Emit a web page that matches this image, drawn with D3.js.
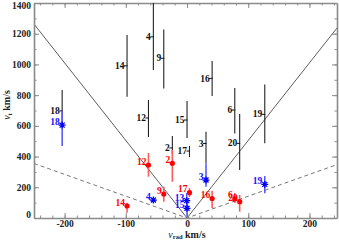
<!DOCTYPE html>
<html><head><meta charset="utf-8">
<script src="https://cdn.jsdelivr.net/npm/d3@7"></script>
<style>body{margin:0;background:#fff;} svg{display:block;}</style>
</head><body><svg id="c" width="339" height="240"></svg>
<script>
// ---- data ----
const xTicks = [-200, -100, 0, 100, 200];
const yTicks = [0, 200, 400, 600, 800, 1000, 1200, 1400];
const solidSlope = 5.05;
const dashSlope = 1.42;

const ids  = ["18","14","12","4","9","2","13","15","17","3","16","6","20","19"];
const vRad = [-204,-98,-63,-55,-38,-24,-0.5,0,4,31,41,78,86,127];

const blackIds = ["18","14","12","4","9","2","15","17","3","16","6","20","19"];
const blackVt  = [697,991,651,1180,1040,456,638,436,485,909,703,486,675];
const blackLo  = [600,790,527,963,844,417,521,397,358,794,551,312,486];
const blackHi  = [833,1191,768,1400,1228,534,762,469,562,1022,846,677,870];

const redIds = ["14","12","9","2","17","16","6","20"];
const redVt  = [78,345,156,356,165,127,124,106];
const redLo  = [35,269,106,236,137,63,98,41];
const redHi  = [100,423,204,443,195,178,163,150];

const blueIds = ["18","4","13","15","3","19"];
const blueVt  = [605,117,113,63,247,219];
const blueLo  = [469,105,65,8,204,161];
const blueHi  = [697,130,163,117,356,273];

// ---- chart ----
const svg = d3.select("#c");
const x = d3.scaleLinear().domain([-250, 245]).range([34, 337]);
const y = d3.scaleLinear().domain([0, 1400]).range([218, 3]);
const vr = id => vRad[ids.indexOf(id)];
const FONT = "'Liberation Serif', 'Times New Roman', serif";
const axisCol = "#8a8a8a";
const fmt = d => String(d);

svg.append("defs").append("clipPath").attr("id","pc")
  .append("rect").attr("x",34).attr("y",3).attr("width",303).attr("height",215);

// V lines
const plot = svg.append("g").attr("clip-path","url(#pc)");
const lineGen = d3.line().x(d=>x(d[0])).y(d=>y(d[1]));
plot.append("path")
  .attr("d", lineGen([[-250, solidSlope*250],[0,0],[245, solidSlope*245]]))
  .attr("fill","none").attr("stroke","#333").attr("stroke-width",0.8);
plot.append("path")
  .attr("d", lineGen([[-250, dashSlope*250],[0,0],[245, dashSlope*245]]))
  .attr("fill","none").attr("stroke","#555").attr("stroke-width",0.8)
  .attr("stroke-dasharray","4,3");

// axes
function styleAxis(g){
  g.select(".domain").attr("stroke",axisCol).attr("stroke-width",1.6);
  g.selectAll(".tick line").attr("stroke",axisCol).attr("stroke-width",1);
  g.selectAll("text").attr("fill","#222").attr("font-family",FONT)
   .attr("font-weight","bold").attr("font-size","9.5px");
}
const minorX = d3.range(-240, 245, 20);
const minorY = d3.range(0, 1401, 100);

const gb = svg.append("g").attr("transform","translate(0,218)")
  .call(d3.axisBottom(x).tickValues(xTicks).tickFormat(fmt).tickSize(-5).tickSizeOuter(0).tickPadding(3));
styleAxis(gb);
gb.selectAll("text").attr("y",2).attr("dy","0.71em");
svg.append("g").attr("transform","translate(0,218)")
  .call(d3.axisBottom(x).tickValues(minorX).tickSize(-2.5).tickFormat(""))
  .call(g=>{g.select(".domain").remove(); g.selectAll("line").attr("stroke",axisCol);});

const gt = svg.append("g").attr("transform","translate(0,3)")
  .call(d3.axisTop(x).tickValues(xTicks).tickSize(-5).tickSizeOuter(0).tickFormat(""));
styleAxis(gt);
svg.append("g").attr("transform","translate(0,3)")
  .call(d3.axisTop(x).tickValues(minorX).tickSize(-2.5).tickFormat(""))
  .call(g=>{g.select(".domain").remove(); g.selectAll("line").attr("stroke",axisCol);});

const gl = svg.append("g").attr("transform","translate(34,0)")
  .call(d3.axisLeft(y).tickValues(yTicks).tickFormat(fmt).tickSize(-5).tickSizeOuter(0).tickPadding(3));
styleAxis(gl);
gl.selectAll("text").attr("x",-3).attr("y", d => d===0 ? -4 : (d===1400 ? 2 : 0));
svg.append("g").attr("transform","translate(34,0)")
  .call(d3.axisLeft(y).tickValues(minorY).tickSize(-2.5).tickFormat(""))
  .call(g=>{g.select(".domain").remove(); g.selectAll("line").attr("stroke",axisCol);});

const gr = svg.append("g").attr("transform","translate(337,0)")
  .call(d3.axisRight(y).tickValues(yTicks).tickSize(-5).tickSizeOuter(0).tickFormat(""));
styleAxis(gr);
svg.append("g").attr("transform","translate(337,0)")
  .call(d3.axisRight(y).tickValues(minorY).tickSize(-2.5).tickFormat(""))
  .call(g=>{g.select(".domain").remove(); g.selectAll("line").attr("stroke",axisCol);});

// axis titles
const xt = svg.append("text").attr("x",187).attr("y",237.5).attr("text-anchor","middle")
  .attr("font-family",FONT).attr("font-size","10px").attr("font-weight","bold").attr("fill","#222");
xt.append("tspan").attr("font-style","italic").attr("font-weight","normal").text("v");
xt.append("tspan").attr("font-size","6.5px").attr("dy",1.5).text("rad");
xt.append("tspan").attr("dy",-1.5).text(" km/s");

const yt = svg.append("text").attr("transform","translate(10,105) rotate(-90)").attr("text-anchor","middle")
  .attr("font-family",FONT).attr("font-size","10px").attr("font-weight","bold").attr("fill","#222");
yt.append("tspan").attr("font-style","italic").attr("font-weight","normal").text("v");
yt.append("tspan").attr("font-size","6.5px").attr("dy",2).text("t");
yt.append("tspan").attr("dy",-2).text(" km/s");

// black series
const black = blackIds.map((id,i)=>({id, vx:vr(id), v:blackVt[i], lo:blackLo[i], hi:blackHi[i]}));
const gB = svg.append("g").attr("clip-path","url(#pc)");
gB.selectAll("line.bar").data(black).join("line")
  .attr("x1",d=>x(d.vx)).attr("x2",d=>x(d.vx)).attr("y1",d=>y(d.lo)).attr("y2",d=>y(d.hi))
  .attr("stroke","#222").attr("stroke-width",1.1);
gB.selectAll("line.mk").data(black).join("line")
  .attr("x1",d=>x(d.vx)-3).attr("x2",d=>x(d.vx)+0.5).attr("y1",d=>y(d.v)).attr("y2",d=>y(d.v))
  .attr("stroke","#111").attr("stroke-width",1);
svg.append("g").selectAll("text").data(black).join("text")
  .attr("x",d=>x(d.vx)-2.5).attr("y",d=>y(d.v)).attr("dy","0.33em").attr("text-anchor","end")
  .attr("font-family",FONT).attr("font-weight","bold").attr("font-size","9.5px").attr("fill","#111")
  .text(d=>d.id);

// red series
const red = redIds.map((id,i)=>({id, vx:vr(id), v:redVt[i], lo:redLo[i], hi:redHi[i]}));
const gR = svg.append("g");
gR.selectAll("line").data(red).join("line")
  .attr("x1",d=>x(d.vx)).attr("x2",d=>x(d.vx)).attr("y1",d=>y(d.lo)).attr("y2",d=>y(d.hi))
  .attr("stroke","#ff5a5a").attr("stroke-width",1.6);
gR.selectAll("circle").data(red).join("circle")
  .attr("cx",d=>x(d.vx)).attr("cy",d=>y(d.v)).attr("r",2.6).attr("fill","#f00");
gR.selectAll("text").data(red).join("text")
  .attr("x",d=>x(d.vx)-2).attr("y",d=>y(d.v)-0.5).attr("text-anchor","end")
  .attr("font-family",FONT).attr("font-weight","bold").attr("font-size","9.5px").attr("fill","#f00")
  .text(d=>d.id);

// blue series
const blue = blueIds.map((id,i)=>({id, vx:vr(id), v:blueVt[i], lo:blueLo[i], hi:blueHi[i]}));
const gU = svg.append("g");
gU.selectAll("line.bar").data(blue).join("line")
  .attr("x1",d=>x(d.vx)).attr("x2",d=>x(d.vx)).attr("y1",d=>y(d.lo)).attr("y2",d=>y(d.hi))
  .attr("stroke","#5a5aff").attr("stroke-width",1.6);
const star = "M-3.5,0H3.5M0,-3.5V3.5M-2.5,-2.5L2.5,2.5M-2.5,2.5L2.5,-2.5";
gU.selectAll("path").data(blue).join("path")
  .attr("transform",d=>`translate(${x(d.vx)},${y(d.v)})`).attr("d",star)
  .attr("stroke","#0000ff").attr("stroke-width",1.3).attr("fill","none");
gU.selectAll("text").data(blue).join("text")
  .attr("x",d=>x(d.vx)-2.5).attr("y",d=>y(d.v)).attr("text-anchor","end")
  .attr("font-family",FONT).attr("font-weight","bold").attr("font-size","9.5px").attr("fill","#1010ff")
  .text(d=>d.id);
</script></body></html>
